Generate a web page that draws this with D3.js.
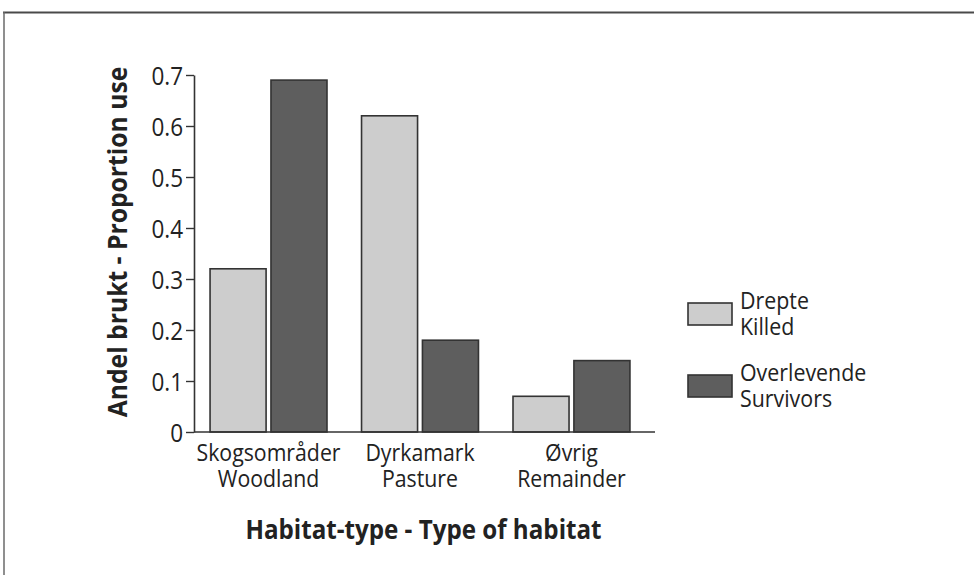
<!DOCTYPE html>
<html>
<head>
<meta charset="utf-8">
<script src="https://cdn.jsdelivr.net/npm/d3@7"></script>
<style>
  html, body { margin: 0; padding: 0; background: #fff; }
  svg { display: block; }
  text { font-family: "Open Sans", "Noto Sans", sans-serif; fill: #222; }
</style>
</head>
<body>
<svg id="chart" width="974" height="575"></svg>
<script>
// ---- data ----
const categoriesLine1 = ["Skogsområder", "Dyrkamark", "Øvrig"];
const categoriesLine2 = ["Woodland", "Pasture", "Remainder"];
const seriesNames = ["Drepte", "Overlevende"];
const seriesNamesEn = ["Killed", "Survivors"];
const killed = [0.32, 0.62, 0.07];
const survivors = [0.69, 0.18, 0.14];
const yTicks = [0, 0.1, 0.2, 0.3, 0.4, 0.5, 0.6, 0.7];
const yTitle = "Andel brukt - Proportion use";
const xTitle = "Habitat-type - Type of habitat";

// ---- layout ----
const W = 974, H = 575;
const plot = { left: 194, right: 646, top: 75, bottom: 432, baselineEnd: 655 };
const colors = ["#cdcdcd", "#5e5e5e"];

const svg = d3.select("#chart");
svg.append("rect").attr("width", W).attr("height", H).attr("fill", "#fff");

// frame
svg.append("line").attr("x1", 3).attr("x2", W).attr("y1", 12.5).attr("y2", 12.5)
  .attr("stroke", "#4a4a4a").attr("stroke-width", 2);
svg.append("line").attr("x1", 4).attr("x2", 4).attr("y1", 12).attr("y2", H)
  .attr("stroke", "#6a6a6a").attr("stroke-width", 1.5);

const x = d3.scaleBand().domain(categoriesLine1).range([plot.left, plot.right])
  .paddingInner(0.228).paddingOuter(0.106);
const xs = d3.scaleBand().domain(seriesNames).range([0, x.bandwidth()]).paddingInner(0.08);
const y = d3.scaleLinear().domain([0, 0.7]).range([plot.bottom, plot.top]);

const values = [killed, survivors];
const rows = categoriesLine1.map((c, i) => ({ cat: c, vals: seriesNames.map((s, j) => ({ s, j, v: values[j][i] })) }));

// bars
const g = svg.append("g");
g.selectAll("g.grp").data(rows).join("g").attr("class", "grp")
  .attr("transform", d => `translate(${x(d.cat)},0)`)
  .selectAll("rect").data(d => d.vals).join("rect")
  .attr("x", d => xs(d.s)).attr("width", xs.bandwidth())
  .attr("y", d => y(d.v)).attr("height", d => y(0) - y(d.v))
  .attr("fill", d => colors[d.j]).attr("stroke", "#333").attr("stroke-width", 1.6);

// baseline
svg.append("line").attr("x1", plot.left).attr("x2", plot.baselineEnd)
  .attr("y1", y(0)).attr("y2", y(0)).attr("stroke", "#333").attr("stroke-width", 1.6);

// y axis
const tsx = 0.9;
const yAxis = d3.axisLeft(y).tickValues(yTicks).tickSize(8).tickSizeOuter(0).tickPadding(3)
  .tickFormat(d => d === 0 ? "0" : d3.format(".1f")(d));
const ya = svg.append("g").attr("transform", `translate(${plot.left},0)`).call(yAxis);
ya.select(".domain").attr("stroke", "#333").attr("stroke-width", 1.6);
ya.selectAll(".tick line").attr("stroke", "#333").attr("stroke-width", 1.4);
ya.selectAll(".tick text").attr("font-size", 25).attr("fill", "#222")
  .attr("font-family", "'Open Sans', sans-serif")
  .attr("x", -11 / tsx).attr("transform", `scale(${tsx},1)`).attr("dy", "0.36em");

// category labels (two lines in one text element)
const csx = 0.887;
const cl = svg.append("g").selectAll("text").data(categoriesLine1).join("text")
  .attr("text-anchor", "middle").attr("font-size", 24)
  .attr("transform", d => `translate(${x(d) + x.bandwidth() / 2},0) scale(${csx},1)`);
cl.append("tspan").attr("x", 0).attr("y", 461).text(d => d);
cl.append("tspan").attr("x", 0).attr("y", 487).text((d, i) => categoriesLine2[i]);

// x title
svg.append("text").attr("text-anchor", "middle").attr("font-weight", "bold").attr("font-size", 26)
  .attr("transform", `translate(${(plot.left + plot.baselineEnd) / 2 - 1},539) scale(0.93,1)`)
  .text(xTitle);

// y title
svg.append("text").attr("text-anchor", "middle").attr("font-weight", "bold").attr("font-size", 26)
  .attr("transform", `translate(127,242) rotate(-90) scale(0.95,1)`)
  .text(yTitle);

// legend
const lsx = 0.93;
const legend = svg.append("g").attr("transform", "translate(688,303)");
const li = legend.selectAll("g").data(seriesNames).join("g")
  .attr("transform", (d, i) => `translate(0,${i * 72})`);
li.append("rect").attr("width", 44).attr("height", 22)
  .attr("fill", (d, i) => colors[i]).attr("stroke", "#333").attr("stroke-width", 1.6);
const lt = li.append("text").attr("font-size", 23)
  .attr("transform", `translate(52,0) scale(${lsx},1)`);
lt.append("tspan").attr("x", 0).attr("y", 6).text(d => d);
lt.append("tspan").attr("x", 0).attr("y", 32).text((d, i) => seriesNamesEn[i]);
</script>
</body>
</html>
